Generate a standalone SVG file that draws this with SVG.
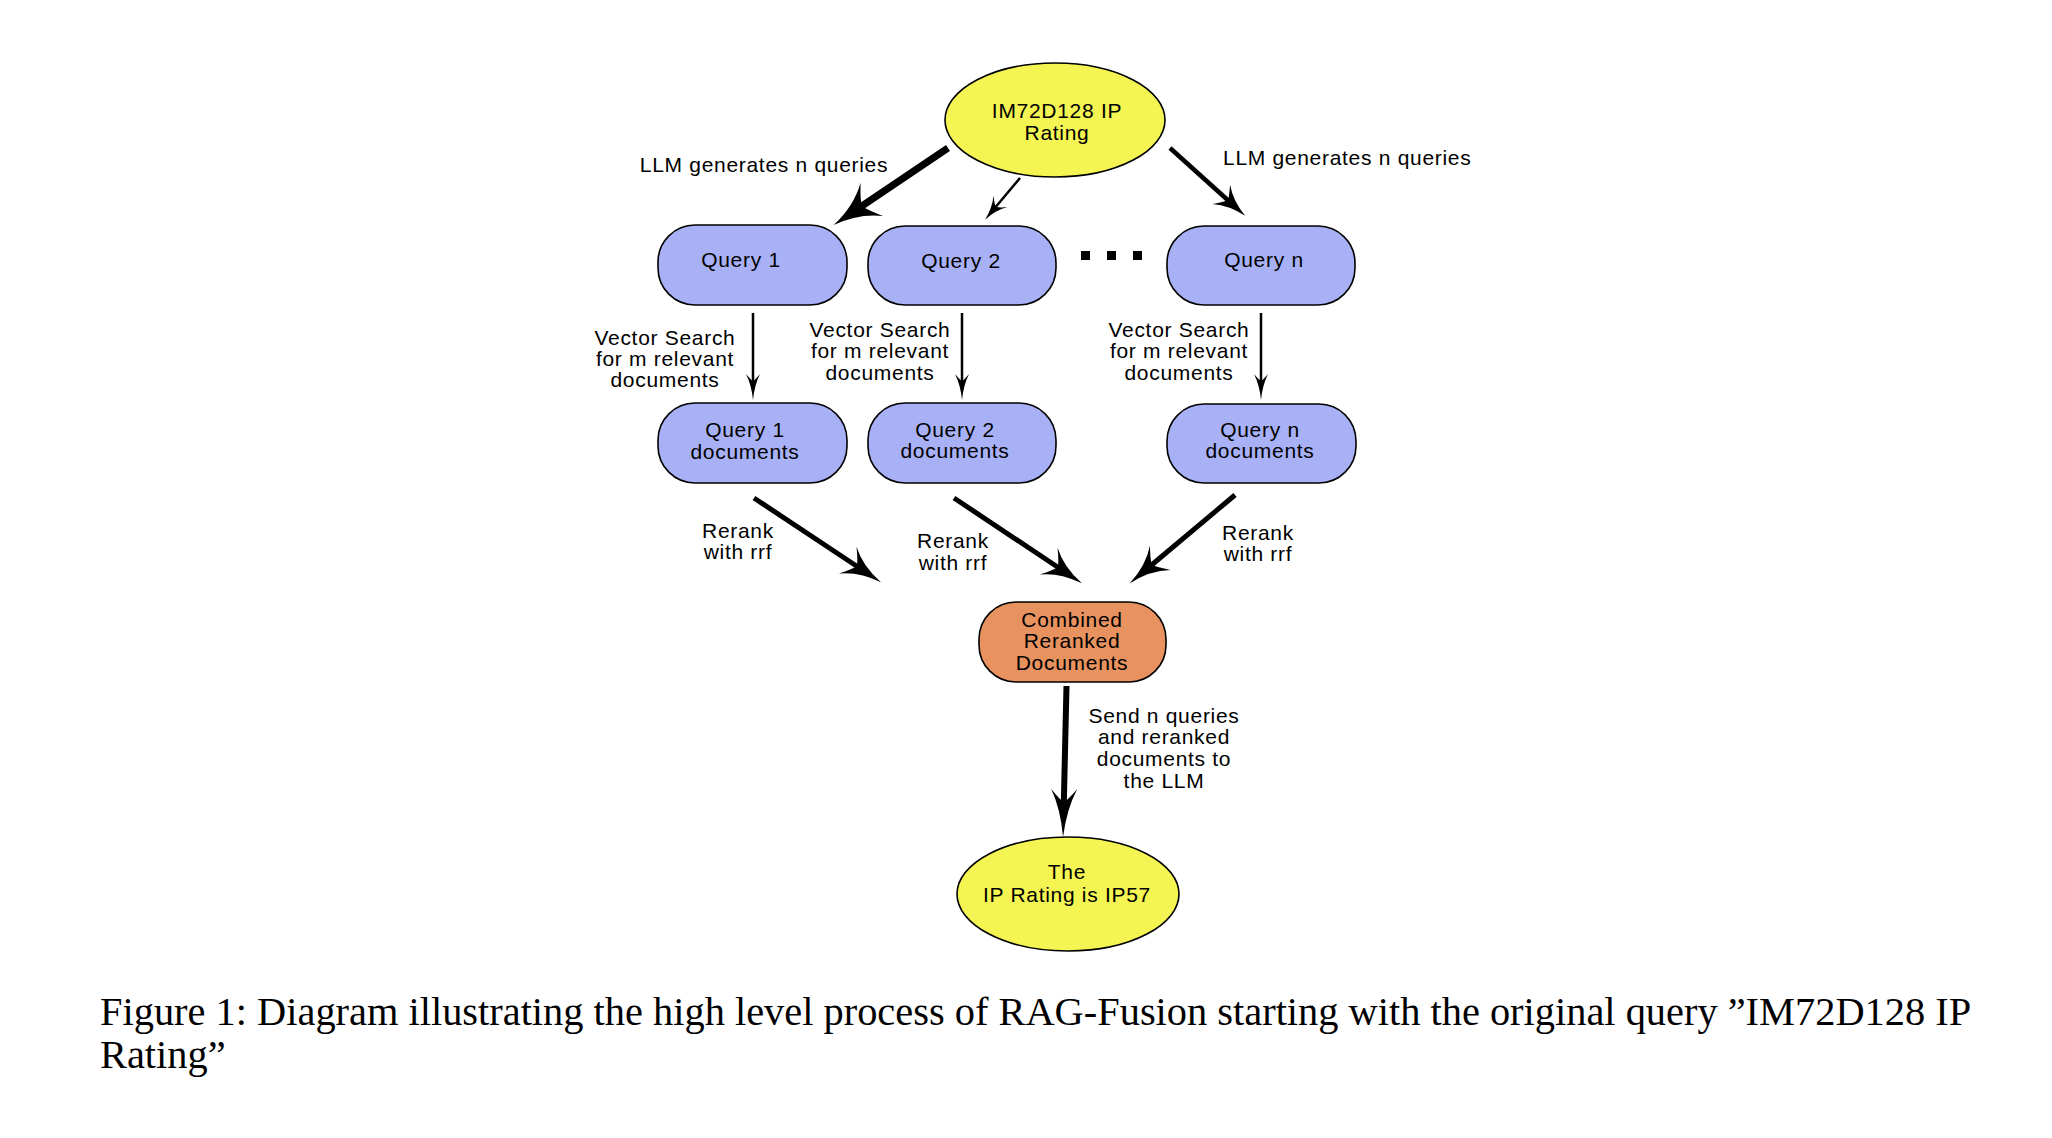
<svg xmlns="http://www.w3.org/2000/svg" width="2052" height="1138" viewBox="0 0 2052 1138">
<style>
.box{fill:#a9b1f6;stroke:#000;stroke-width:1.6}
.org{fill:#e8925f;stroke:#000;stroke-width:1.6}
.ell{fill:#f4f552;stroke:#000;stroke-width:1.6}
.t{font-family:"Liberation Sans",Arial,sans-serif;font-size:21px;letter-spacing:0.7px;fill:#000;text-anchor:middle}
.ts{font-family:"Liberation Sans",Arial,sans-serif;font-size:21px;letter-spacing:0.7px;fill:#000}
.cap{font-family:"Liberation Serif","Times New Roman",serif;font-size:40.4px;fill:#000}
.ln{fill:none;stroke:#000;stroke-linecap:butt}
.hd{fill:#000}
</style>
<defs>
<marker id="hBig" markerUnits="userSpaceOnUse" viewBox="-46 -20 46 40" markerWidth="46" markerHeight="40" refX="-27" refY="0" orient="auto" overflow="visible">
<path class="hd" d="M0,0 Q-27,-4 -46,-20 Q-36,-6 -34,0 Q-36,6 -46,20 Q-27,4 0,0 Z"/>
</marker>
<marker id="hMed" markerUnits="userSpaceOnUse" viewBox="-40 -16 40 32" markerWidth="40" markerHeight="32" refX="-24" refY="0" orient="auto" overflow="visible">
<path class="hd" d="M0,0 Q-24,-3 -40,-16 Q-31,-5 -29,0 Q-31,5 -40,16 Q-24,3 0,0 Z"/>
</marker>
<marker id="hN" markerUnits="userSpaceOnUse" viewBox="-32 -13 32 26" markerWidth="32" markerHeight="26" refX="-19" refY="0" orient="auto" overflow="visible">
<path class="hd" d="M0,0 Q-19,-3 -32,-13 Q-25,-4 -23,0 Q-25,4 -32,13 Q-19,3 0,0 Z"/>
</marker>
<marker id="hSm" markerUnits="userSpaceOnUse" viewBox="-24 -9 24 18" markerWidth="24" markerHeight="18" refX="-14" refY="0" orient="auto" overflow="visible">
<path class="hd" d="M0,0 Q-14,-2 -24,-9 Q-18,-3 -17,0 Q-18,3 -24,9 Q-14,2 0,0 Z"/>
</marker>
<marker id="hV" markerUnits="userSpaceOnUse" viewBox="-26 -7 26 14" markerWidth="26" markerHeight="14" refX="-15" refY="0" orient="auto" overflow="visible">
<path class="hd" d="M0,0 Q-15,-1.5 -26,-7 Q-20,-2 -19,0 Q-20,2 -26,7 Q-15,1.5 0,0 Z"/>
</marker>
<marker id="hBot" markerUnits="userSpaceOnUse" viewBox="-48 -13 48 26" markerWidth="48" markerHeight="26" refX="-29" refY="0" orient="auto" overflow="visible">
<path class="hd" d="M0,0 Q-28,-3 -48,-13 Q-37,-4 -35,0 Q-37,4 -48,13 Q-28,3 0,0 Z"/>
</marker>
</defs>

<g id="connectors">
<line class="ln" x1="948" y1="148" x2="856" y2="210" stroke-width="7" marker-end="url(#hBig)"/>
<line class="ln" x1="1020" y1="178" x2="994" y2="209" stroke-width="2.5" marker-end="url(#hSm)"/>
<line class="ln" x1="1170" y1="148" x2="1231" y2="203" stroke-width="4.5" marker-end="url(#hN)"/>
<line class="ln" x1="753" y1="313" x2="753" y2="385" stroke-width="2.5" marker-end="url(#hV)"/>
<line class="ln" x1="962" y1="313" x2="962" y2="385" stroke-width="2.5" marker-end="url(#hV)"/>
<line class="ln" x1="1261" y1="313" x2="1261" y2="385" stroke-width="2.5" marker-end="url(#hV)"/>
<line class="ln" x1="754" y1="498" x2="861" y2="569" stroke-width="5" marker-end="url(#hMed)"/>
<line class="ln" x1="954" y1="498" x2="1062" y2="570" stroke-width="5" marker-end="url(#hMed)"/>
<line class="ln" x1="1235" y1="495" x2="1148" y2="568" stroke-width="5" marker-end="url(#hMed)"/>
<line class="ln" x1="1066.5" y1="686" x2="1063.7" y2="808" stroke-width="6" marker-end="url(#hBot)"/>
</g>

<g id="edge-labels">
<text class="t" x="764" y="172">LLM generates n queries</text>
<text class="ts" x="1223" y="165">LLM generates n queries</text>
<text class="t" x="665" y="345">Vector Search</text>
<text class="t" x="665" y="366">for m relevant</text>
<text class="t" x="665" y="387">documents</text>
<text class="t" x="880" y="337">Vector Search</text>
<text class="t" x="880" y="358">for m relevant</text>
<text class="t" x="880" y="380">documents</text>
<text class="t" x="1179" y="337">Vector Search</text>
<text class="t" x="1179" y="358">for m relevant</text>
<text class="t" x="1179" y="380">documents</text>
<text class="t" x="738" y="538">Rerank</text>
<text class="t" x="738" y="559">with rrf</text>
<text class="t" x="953" y="548">Rerank</text>
<text class="t" x="953" y="570">with rrf</text>
<text class="t" x="1258" y="540">Rerank</text>
<text class="t" x="1258" y="561">with rrf</text>
<text class="t" x="1164" y="723">Send n queries</text>
<text class="t" x="1164" y="744">and reranked</text>
<text class="t" x="1164" y="766">documents to</text>
<text class="t" x="1164" y="788">the LLM</text>
</g>

<g id="ellipsis">
<rect x="1081" y="251" width="9" height="9" fill="#000"/>
<rect x="1107" y="251" width="9" height="9" fill="#000"/>
<rect x="1133" y="251" width="9" height="9" fill="#000"/>
</g>

<g id="start">
<ellipse class="ell" cx="1055" cy="120" rx="110" ry="57"/>
<text class="t" x="1057" y="118">IM72D128 IP</text>
<text class="t" x="1057" y="140">Rating</text>
</g>

<g id="query1">
<rect class="box" x="658" y="225" width="189" height="80" rx="37"/>
<text class="t" x="741" y="267">Query 1</text>
</g>
<g id="query2">
<rect class="box" x="868" y="226" width="188" height="79" rx="37"/>
<text class="t" x="961" y="268">Query 2</text>
</g>
<g id="queryn">
<rect class="box" x="1167" y="226" width="188" height="79" rx="37"/>
<text class="t" x="1264" y="267">Query n</text>
</g>

<g id="docs1">
<rect class="box" x="658" y="403" width="189" height="80" rx="37"/>
<text class="t" x="745" y="437">Query 1</text>
<text class="t" x="745" y="459">documents</text>
</g>
<g id="docs2">
<rect class="box" x="868" y="403" width="188" height="80" rx="37"/>
<text class="t" x="955" y="437">Query 2</text>
<text class="t" x="955" y="458">documents</text>
</g>
<g id="docsn">
<rect class="box" x="1167" y="404" width="189" height="79" rx="37"/>
<text class="t" x="1260" y="437">Query n</text>
<text class="t" x="1260" y="458">documents</text>
</g>

<g id="combined">
<rect class="org" x="979" y="602" width="187" height="80" rx="37"/>
<text class="t" x="1072" y="627">Combined</text>
<text class="t" x="1072" y="648">Reranked</text>
<text class="t" x="1072" y="670">Documents</text>
</g>

<g id="result">
<ellipse class="ell" cx="1068" cy="894" rx="111" ry="57"/>
<text class="t" x="1067" y="879">The</text>
<text class="t" x="1067" y="902">IP Rating is IP57</text>
</g>

<g id="caption">
<text class="cap" x="100" y="1025">Figure 1: Diagram illustrating the high level process of RAG-Fusion starting with the original query ”IM72D128 IP</text>
<text class="cap" x="100" y="1068">Rating”</text>
</g>
</svg>
